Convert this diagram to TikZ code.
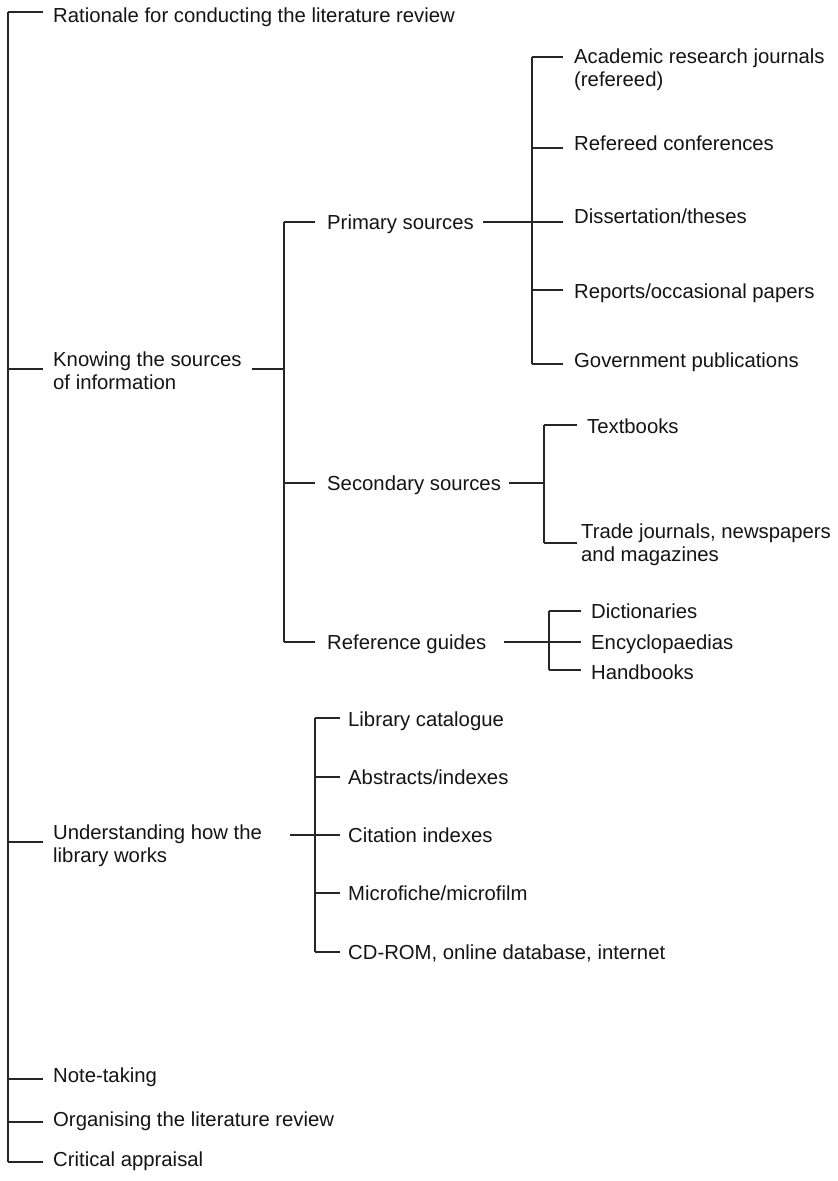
\documentclass[tikz,border=0pt]{standalone}
\usepackage{fontspec}
\setmainfont{Liberation Sans}
\begin{document}
\begin{tikzpicture}[x=1pt,y=-1pt,
  ln/.style={draw=black!85,line width=1.2pt},
  txt/.style={anchor=base west,inner sep=0pt,align=left,text=black!92,
    font=\fontsize{20.3}{23}\selectfont}]
\useasboundingbox[fill=white] (0,0) rectangle (838,1181);
% ---------- level 0 ----------
\coordinate (T0) at (8,12);
\coordinate (T1) at (8,1162);
\draw[ln] (T0) -- (T1);
\node[txt] (rat) at (53,22) {Rationale for conducting the literature review};
\node[txt] (kno) at (53,389) {Knowing the sources\\of information};
\node[txt] (und) at (53,862) {Understanding how the\\library works};
\node[txt] (not) at (53,1082) {Note-taking};
\node[txt] (org) at (53,1126) {Organising the literature review};
\node[txt] (cri) at (53,1166) {Critical appraisal};
\coordinate (e-rat) at (43,12);
\coordinate (j-kno) at (8,369);  \coordinate (e-kno) at (43,369);
\coordinate (j-und) at (8,842);  \coordinate (e-und) at (43,842);
\coordinate (j-not) at (8,1079); \coordinate (e-not) at (43,1079);
\coordinate (j-org) at (8,1122); \coordinate (e-org) at (43,1122);
\coordinate (e-cri) at (43,1162);
\draw[ln] (T0) -- (e-rat);
\draw[ln] (j-kno) -- (e-kno);
\draw[ln] (j-und) -- (e-und);
\draw[ln] (j-not) -- (e-not);
\draw[ln] (j-org) -- (e-org);
\draw[ln] (T1) -- (e-cri);
% ---------- knowing the sources ----------
\coordinate (k-out) at (252,369);
\coordinate (S0) at (284,222);
\coordinate (S1) at (284,642);
\coordinate (k-in) at (284,369);
\draw[ln] (k-out) -- (k-in);
\draw[ln] (S0) -- (S1);
\node[txt] (pri) at (327,229) {Primary sources};
\node[txt] (sec) at (327,490) {Secondary sources};
\node[txt] (ref) at (327,649) {Reference guides};
\coordinate (e-pri) at (315,222);
\coordinate (j-sec) at (284,483); \coordinate (e-sec) at (315,483);
\coordinate (e-ref) at (315,642);
\draw[ln] (S0) -- (e-pri);
\draw[ln] (j-sec) -- (e-sec);
\draw[ln] (S1) -- (e-ref);
% ---------- primary ----------
\coordinate (p-out) at (483,222);
\coordinate (P0) at (532,57);
\coordinate (P1) at (532,364);
\coordinate (p-in) at (532,222);
\draw[ln] (p-out) -- (p-in);
\draw[ln] (P0) -- (P1);
\node[txt] (aca) at (574,86) {Academic research journals\\(refereed)};
\node[txt] (rco) at (574,150) {Refereed conferences};
\node[txt] (dis) at (574,223) {Dissertation/theses};
\node[txt] (rep) at (574,298) {Reports/occasional papers};
\node[txt] (gov) at (574,367) {Government publications};
\coordinate (e-aca) at (563,57);
\coordinate (j-rco) at (532,148); \coordinate (e-rco) at (563,148);
\coordinate (e-dis) at (563,222);
\coordinate (j-rep) at (532,290); \coordinate (e-rep) at (563,290);
\coordinate (e-gov) at (563,364);
\draw[ln] (P0) -- (e-aca);
\draw[ln] (j-rco) -- (e-rco);
\draw[ln] (p-in) -- (e-dis);
\draw[ln] (j-rep) -- (e-rep);
\draw[ln] (P1) -- (e-gov);
% ---------- secondary ----------
\coordinate (s-out) at (509,483);
\coordinate (Q0) at (544,425);
\coordinate (Q1) at (544,543);
\coordinate (s-in) at (544,483);
\draw[ln] (s-out) -- (s-in);
\draw[ln] (Q0) -- (Q1);
\node[txt] (tex) at (587,433) {Textbooks};
\node[txt] (tra) at (581,561) {Trade journals, newspapers\\and magazines};
\coordinate (e-tex) at (577,425);
\coordinate (e-tra) at (577,543);
\draw[ln] (Q0) -- (e-tex);
\draw[ln] (Q1) -- (e-tra);
% ---------- reference ----------
\coordinate (r-out) at (504,642);
\coordinate (R0) at (549,611);
\coordinate (R1) at (549,670);
\draw[ln] (R0) -- (R1);
\node[txt] (dic) at (591,618) {Dictionaries};
\node[txt] (enc) at (591,649) {Encyclopaedias};
\node[txt] (han) at (591,679) {Handbooks};
\coordinate (e-dic) at (581,611);
\coordinate (e-enc) at (581,642);
\coordinate (e-han) at (581,670);
\draw[ln] (R0) -- (e-dic);
\draw[ln] (r-out) -- (e-enc);
\draw[ln] (R1) -- (e-han);
% ---------- library ----------
\coordinate (u-out) at (290,835);
\coordinate (L0) at (315,718);
\coordinate (L1) at (315,952);
\draw[ln] (L0) -- (L1);
\node[txt] (lib) at (348,726) {Library catalogue};
\node[txt] (abs) at (348,784) {Abstracts/indexes};
\node[txt] (cit) at (348,842) {Citation indexes};
\node[txt] (mic) at (348,900) {Microfiche/microfilm};
\node[txt] (cdr) at (348,959) {CD-ROM, online database, internet};
\coordinate (e-lib) at (340,718);
\coordinate (j-abs) at (315,777); \coordinate (e-abs) at (340,777);
\coordinate (e-cit) at (340,835);
\coordinate (j-mic) at (315,893); \coordinate (e-mic) at (340,893);
\coordinate (e-cdr) at (340,952);
\draw[ln] (L0) -- (e-lib);
\draw[ln] (j-abs) -- (e-abs);
\draw[ln] (u-out) -- (e-cit);
\draw[ln] (j-mic) -- (e-mic);
\draw[ln] (L1) -- (e-cdr);
\end{tikzpicture}
\end{document}
